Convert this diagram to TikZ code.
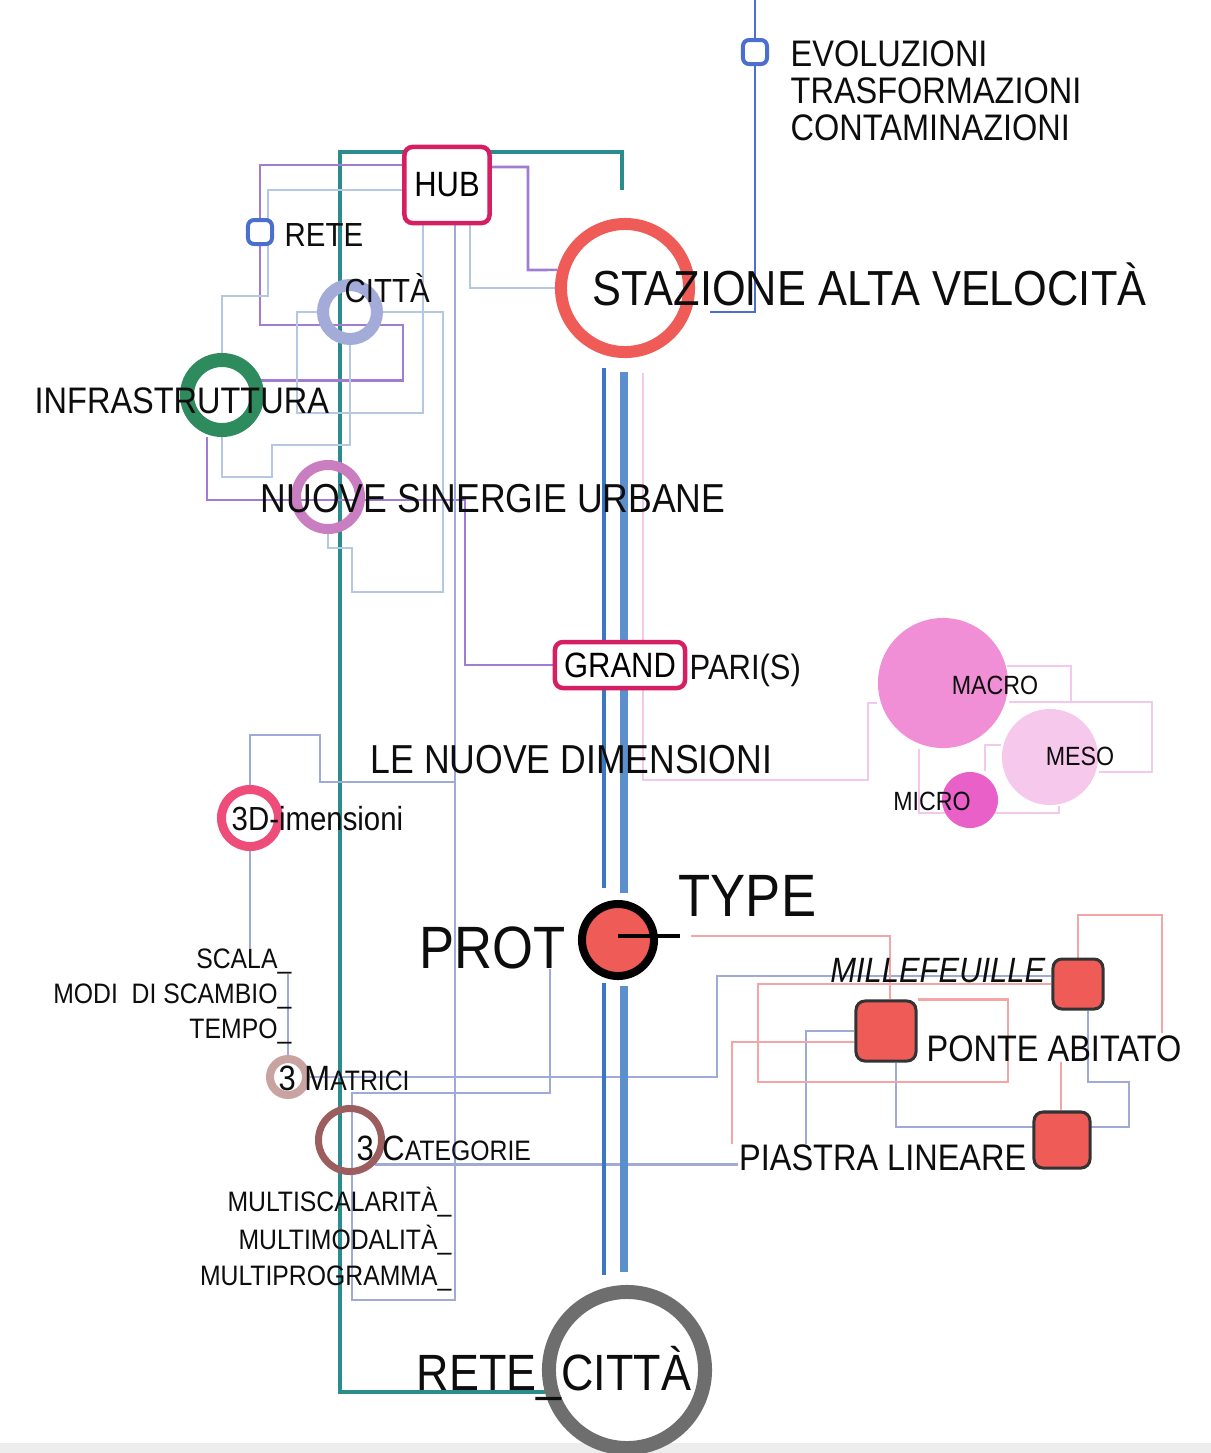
\documentclass[tikz,border=0pt]{standalone}
\usepackage{fontspec}
\setmainfont{Liberation Sans}[FakeStretch=0.88]
\usetikzlibrary{calc}
\pgfdeclarelayer{background}
\pgfsetlayers{background,main}

\definecolor{staz}{RGB}{239,91,87}
\definecolor{hubred}{RGB}{214,30,98}
\definecolor{reteblue}{RGB}{74,111,208}
\definecolor{citta}{RGB}{163,172,217}
\definecolor{infra}{RGB}{46,139,94}
\definecolor{nuove}{RGB}{200,126,192}
\definecolor{dimred}{RGB}{238,77,122}
\definecolor{macro}{RGB}{240,143,214}
\definecolor{meso}{RGB}{246,200,236}
\definecolor{micro}{RGB}{232,96,200}
\definecolor{matrici}{RGB}{201,163,160}
\definecolor{categ}{RGB}{155,93,93}
\definecolor{retegrey}{RGB}{110,110,110}
\definecolor{tealc}{RGB}{42,140,140}
\definecolor{purp}{RGB}{160,125,210}
\definecolor{steel}{RGB}{180,200,228}
\definecolor{bgrey}{RGB}{160,170,215}
\definecolor{salm}{RGB}{244,165,165}
\definecolor{pinkl}{RGB}{242,200,236}
\definecolor{trunkA}{RGB}{58,120,196}
\definecolor{trunkB}{RGB}{92,144,204}

\newcommand{\fs}[1]{\fontsize{#1}{#1}\selectfont}

\tikzset{
  ring/.style={circle, draw=#1, inner sep=0pt},
  bubble/.style={circle, fill=#1, inner sep=0pt},
  stopsq/.style={rectangle, rounded corners=0.6mm, draw=reteblue, line width=0.4mm, fill=white, minimum size=2.4mm, inner sep=0pt},
  tagbox/.style={rectangle, rounded corners=0.8mm, draw=hubred, line width=0.45mm, fill=white, inner sep=0pt},
  typesq/.style={rectangle, rounded corners=0.9mm, draw=black!80, line width=0.3mm, fill=staz, inner sep=0pt},
  lbl/.style={inner sep=0pt, text=black!95},
  tealway/.style={draw=tealc, line width=1pt},
  purpleway/.style={draw=purp, line width=0.75pt},
  steelway/.style={draw=steel, line width=0.75pt},
  greyway/.style={draw=bgrey, line width=0.75pt},
  salmonway/.style={draw=salm, line width=0.75pt},
  pinkway/.style={draw=pinkl, line width=0.65pt},
  trunkthin/.style={draw=trunkA, line width=1.2pt},
  trunkthick/.style={draw=trunkB, line width=2.5pt},
  bluepath/.style={draw=reteblue, line width=0.8pt}
}

\begin{document}
\begin{tikzpicture}[x=0.01cm, y=-0.01cm]
    \useasboundingbox (0,0) rectangle (1211,1453);
    \fill[black!7] (0,1443) rectangle (1211,1453);

    % Stations
    \node[ring=staz, line width=1.2mm, minimum size=12.8mm] (stazione) at (625,288) {};
    \node[stopsq] (evol) at (755,52) {};
    \node[tagbox, minimum width=8.5mm, minimum height=7.6mm, font=\fs{10}] (hub) at (447,185) {HUB};
    \node[stopsq] (rete) at (260,232) {};
    \node[ring=citta, line width=1.2mm, minimum size=5.4mm] (citta) at (350,312) {};
    \node[ring=infra, line width=1.4mm, minimum size=7mm] (infra) at (222,395) {};
    \node[ring=nuove, line width=1mm, minimum size=6.4mm] (nuove) at (328,497) {};
    \node[tagbox, minimum width=13mm, minimum height=4.6mm, font=\fs{10}] (grand) at (620,665) {GRAND};
    \node[bubble=macro, minimum size=13mm] (macro) at (943,683) {};
    \node[bubble=meso, minimum size=9.6mm] (meso) at (1050,757) {};
    \node[bubble=micro, minimum size=5.6mm] (micro) at (970,800) {};
    \node[ring=dimred, line width=0.9mm, minimum size=5.7mm] (threed) at (250,818) {};
    \node[ring=black, fill=staz, line width=0.8mm, minimum size=7.2mm] (prot) at (618,940) {};
    \node[typesq, minimum size=5mm] (mille) at (1078,984) {};
    \node[typesq, minimum size=6mm] (ponte) at (886,1031) {};
    \node[typesq, minimum size=5.6mm] (piastra) at (1062,1140) {};
    \node[ring=matrici, line width=0.8mm, minimum size=3.6mm] (matrici) at (288,1077) {};
    \node[ring=categ, line width=0.7mm, minimum size=6.3mm] (categorie) at (350,1140) {};
    \node[ring=retegrey, line width=1.4mm, minimum size=15.6mm] (retecitta) at (627,1370) {};

    \coordinate (tick) at (680,936);
    \coordinate (tealend) at (622,190);
    \coordinate (topend) at (755,0);

    % Labels
    \node[lbl, anchor=north west, align=left, font=\fs{10.5}] (evol-t) at (790,40) {EVOLUZIONI\\TRASFORMAZIONI\\CONTAMINAZIONI};
    \node[lbl, anchor=base west, font=\fs{14}] (staz-t) at (592,305) {STAZIONE ALTA VELOCITÀ};
    \node[lbl, anchor=base west, font=\fs{9.5}] (rete-t) at (284,246) {RETE};
    \node[lbl, anchor=base west, font=\fs{9.5}] (citta-t) at (344,302) {CITTÀ};
    \node[lbl, anchor=base west, font=\fs{10.5}] (infra-t) at (34,413) {INFRASTRUTTURA};
    \node[lbl, anchor=base west, font=\fs{11.5}] (nuove-t) at (260,512) {NUOVE SINERGIE URBANE};
    \node[lbl, anchor=base west, font=\fs{10}] (paris-t) at (689,679) {PARI(S)};
    \node[lbl, anchor=base west, font=\fs{11.5}] (dim-t) at (370,773) {LE NUOVE DIMENSIONI};
    \node[lbl, anchor=base, font=\fs{7.5}] (macro-t) at (995,694) {MACRO};
    \node[lbl, anchor=base, font=\fs{7.5}] (meso-t) at (1080,765) {MESO};
    \node[lbl, anchor=base, font=\fs{7.5}] (micro-t) at (932,810) {MICRO};
    \node[lbl, anchor=base west, font=\fs{9.5}] (threed-t) at (231,830) {3D-imensioni};
    \node[lbl, anchor=base east, font=\fs{17}] (prot-t) at (566,968) {PROT};
    \node[lbl, anchor=base west, font=\fs{17}] (type-t) at (678,916) {TYPE};
    \node[lbl, anchor=base east, font=\fs{10}\itshape] (mille-t) at (1046,982) {MILLEFEUILLE};
    \node[lbl, anchor=base west, font=\fs{10.5}] (ponte-t) at (926,1061) {PONTE ABITATO};
    \node[lbl, anchor=base east, font=\fs{10.5}] (piastra-t) at (1027,1170) {PIASTRA LINEARE};
    \node[lbl, anchor=base east, font=\fs{8}] (scala-t) at (292,968) {SCALA\_};
    \node[lbl, anchor=base east, font=\fs{8}] (modi-t) at (292,1003) {MODI\ \ DI SCAMBIO\_};
    \node[lbl, anchor=base east, font=\fs{8}] (tempo-t) at (292,1038) {TEMPO\_};
    \node[lbl, anchor=base west, font=\fs{10}] (matrici-t) at (278,1090) {3 M{\fs{8}ATRICI}};
    \node[lbl, anchor=base west, font=\fs{10}] (categorie-t) at (356,1160) {3 C{\fs{8}ATEGORIE}};
    \node[lbl, anchor=base east, font=\fs{8}] (mscala-t) at (452,1211) {MULTISCALARITÀ\_};
    \node[lbl, anchor=base east, font=\fs{8}] (mmoda-t) at (452,1249) {MULTIMODALITÀ\_};
    \node[lbl, anchor=base east, font=\fs{8}] (mprog-t) at (452,1285) {MULTIPROGRAMMA\_};
    \node[lbl, anchor=base west, font=\fs{14.5}] (retecitta-t) at (416,1390) {RETE\_CITTÀ};

    % PROT-TYPE tick
    \draw[line width=1.1pt] (prot.center |- tick) -- (tick);

    \begin{pgfonlayer}{background}
    % Teal line
    \draw[tealway] (tealend) |- (340,152) |- (retecitta.195);

    % Purple lines
    \draw[purpleway] (hub.west |- 0,165) -| (rete.north);
    \draw[purpleway] (rete.south) |- (403,325) |- (infra.20);
    \draw[purpleway] (infra.south -| 207,0) |- (465,500) |- (grand.west);
    \draw[purpleway] (hub.east |- 0,167) -| (528,270) -- (stazione.165);

    % Light lines
    \draw[steelway] (hub.west |- 0,190) -| (268,296) -| (infra.north);
    \draw[steelway] (hub.south -| 470,0) |- (stazione.west);
    \draw[steelway] (hub.south -| 423,0) |- (297,413) |- (citta.west);
    \draw[steelway] (citta.east) -| (443,592) -| (352,548) -| (nuove.south);
    \draw[steelway] (citta.south) |- (272,445) |- (222,477) -- (infra.south);

    % Blue-grey lines
    \draw[greyway] (hub.south -| 455,0) |- (352,1300) |- (550,1093) -- (prot-t.south -| 550,0);
    \draw[greyway] (threed.north) |- (320,735) |- (455,782);
    \draw[greyway] (threed.south) -- (threed.south |- scala-t.north);
    \draw[greyway] (matrici.north) -- (matrici.north |- scala-t.south);
    \draw[greyway] (matrici.east) -| (717,976) -- (mille.west |- 0,976);
    \draw[greyway] (categorie.-45) -- (categorie.-45 -| piastra-t.west);
    \draw[greyway] (ponte.west) -| (piastra-t.north -| 806,0);
    \draw[greyway] (ponte.south -| 896,0) |- (1129,1127) |- (1088,1082) -- (1088,0 |- mille.south);

    % Salmon lines
    \draw[salmonway] (tick) ++(11,0) -| (ponte.north -| 890,0);
    \draw[salmonway] (ponte.north east) -| (1008,1082) -| (758,984) -- (mille.west |- 0,984);
    \draw[salmonway] (mille.north) |- (1162,915) -- (1162,1033);
    \draw[salmonway] (ponte.west |- 0,1042) -| (piastra-t.north -| 732,0);
    \draw[salmonway] (piastra.north -| 1061,0) -- (ponte-t.south -| 1061,0);

    % Pink lines
    \draw[pinkway, shorten <=1.5mm] (stazione.south -| 643,0) |- (868,780) |- (macro.west |- 0,703);
    \draw[pinkway] (macro.15) -| (1071,702);
    \draw[pinkway] (macro.east |- 0,702) -| (1152,772) -- (meso.east |- 0,772);
    \draw[pinkway] (macro.south -| 919,0) |- (1059,813) -- (1059,0 |- meso.south);
    \draw[pinkway] (meso.west |- 0,745) -| (micro.north -| 985,0);

    % Trunk
    \draw[trunkthin, shorten <=1mm, shorten >=1.2mm] (stazione.south -| 604,0) -- (prot.north -| 604,0);
    \draw[trunkthin, shorten <=0.3mm, shorten >=1mm] (prot.south -| 604,0) -- (retecitta.north -| 604,0);
    \draw[trunkthick, shorten <=1.4mm, shorten >=0.7mm] (stazione.south -| 624,0) -- (prot.north -| 624,0);
    \draw[trunkthick, shorten <=0.6mm, shorten >=1.3mm] (prot.south -| 624,0) -- (retecitta.north -| 624,0);

    % Evoluzioni line
    \draw[bluepath] (evol.north) -- (topend);
    \draw[bluepath, shorten >=1.5mm] (evol.south) |- (stazione.east |- 0,312);
    \end{pgfonlayer}

\end{tikzpicture}
\end{document}
